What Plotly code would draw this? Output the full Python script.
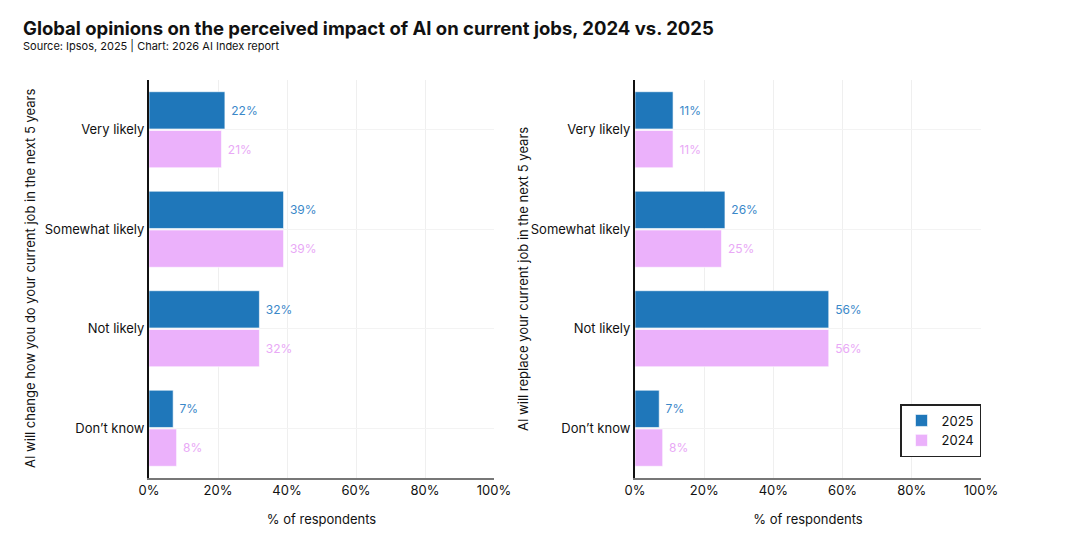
import plotly.graph_objects as go

categories = ["Very likely", "Somewhat likely", "Not likely", "Don’t know"]
change_2025 = [22, 39, 32, 7]
change_2024 = [21, 39, 32, 8]
replace_2025 = [11, 26, 56, 7]
replace_2024 = [11, 25, 56, 8]
x_ticks = [0, 20, 40, 60, 80, 100]
x_tick_labels = ["0%", "20%", "40%", "60%", "80%", "100%"]

C25 = "#1F77BA"
C24 = "#EBB1FB"
T25 = "#3A88C9"
T24 = "#E9A9F6"
FONT = "Inter, Roboto, sans-serif"
W, H = 1080, 541
OFF = 8  # page offset of the figure

def px(x):
    return (x - OFF) / W

def py(y):
    return (H - (y - OFF)) / H

fig = go.Figure()

def add_pair(v25, v24, xa, ya, show):
    fig.add_trace(go.Bar(
        y=categories, x=v25, orientation="h", name="2025",
        marker=dict(color=C25, line=dict(color="rgba(255,255,255,0.6)", width=1)),
        text=[f" {v}%" for v in v25], textposition="outside",
        textfont=dict(color=T25, size=12, family=FONT),
        cliponaxis=False, xaxis=xa, yaxis=ya, showlegend=show, legendgroup="2025"))
    fig.add_trace(go.Bar(
        y=categories, x=v24, orientation="h", name="2024",
        marker=dict(color=C24, line=dict(color="rgba(255,255,255,0.6)", width=1)),
        text=[f" {v}%" for v in v24], textposition="outside",
        textfont=dict(color=T24, size=12, family=FONT),
        cliponaxis=False, xaxis=xa, yaxis=ya, showlegend=show, legendgroup="2024"))

add_pair(change_2025, change_2024, "x", "y", True)
add_pair(replace_2025, replace_2024, "x2", "y2", False)

ydom = [py(478), py(80)]
xcommon = dict(range=[0, 100], tickvals=x_ticks, ticktext=x_tick_labels,
               showgrid=True, gridcolor="#EFEFEF", gridwidth=1,
               showline=True, linecolor="#777777", linewidth=1.5, automargin=False,
               zeroline=False, ticks="", tickfont=dict(size=13, color="#111", family=FONT),
               title=dict(text="% of respondents", font=dict(size=13, color="#111", family=FONT), standoff=18))
ycommon = dict(autorange="reversed", showgrid=True, gridcolor="#F3F3F3", gridwidth=1,
               showline=True, linecolor="#111111", linewidth=2, ticks="", automargin=False,
               tickfont=dict(size=13, color="#111", family=FONT), domain=ydom, zeroline=False)

fig.update_layout(
    width=W, height=H,
    margin=dict(l=0, r=0, t=0, b=0, autoexpand=False),
    paper_bgcolor="white", plot_bgcolor="white",
    barmode="group", bargap=0.22, bargroupgap=0.04,
    font=dict(family=FONT),
    xaxis=dict(domain=[px(149), px(494)], anchor="y", **xcommon),
    yaxis=dict(anchor="x", **ycommon),
    xaxis2=dict(domain=[px(635), px(981)], anchor="y2", **xcommon),
    yaxis2=dict(anchor="x2", **ycommon),
    legend=dict(x=px(981), y=py(404), xanchor="right", yanchor="top",
                bordercolor="#222", borderwidth=1.5, bgcolor="white",
                font=dict(size=13, color="#111", family=FONT), traceorder="normal",
                itemwidth=30),
)

fig.add_annotation(text="<b>Global opinions on the perceived impact of AI on current jobs, 2024 vs. 2025</b>",
                   x=px(21), y=py(28), xref="paper", yref="paper", xanchor="left", yanchor="middle",
                   showarrow=False, font=dict(size=18.5, color="#111", family=FONT))
fig.add_annotation(text="Source: Ipsos, 2025 | Chart: 2026 AI Index report",
                   x=px(21), y=py(46), xref="paper", yref="paper", xanchor="left", yanchor="middle",
                   showarrow=False, font=dict(size=11, color="#111", family=FONT))
fig.add_annotation(text="AI will change how you do your current job in the next 5 years",
                   x=px(30), y=py(279), xref="paper", yref="paper", textangle=-90,
                   xanchor="center", yanchor="middle", showarrow=False,
                   font=dict(size=13, color="#111", family=FONT))
fig.add_annotation(text="AI will replace your current job in the next 5 years",
                   x=px(523), y=py(279), xref="paper", yref="paper", textangle=-90,
                   xanchor="center", yanchor="middle", showarrow=False,
                   font=dict(size=13, color="#111", family=FONT))

fig.write_html("out.html")
